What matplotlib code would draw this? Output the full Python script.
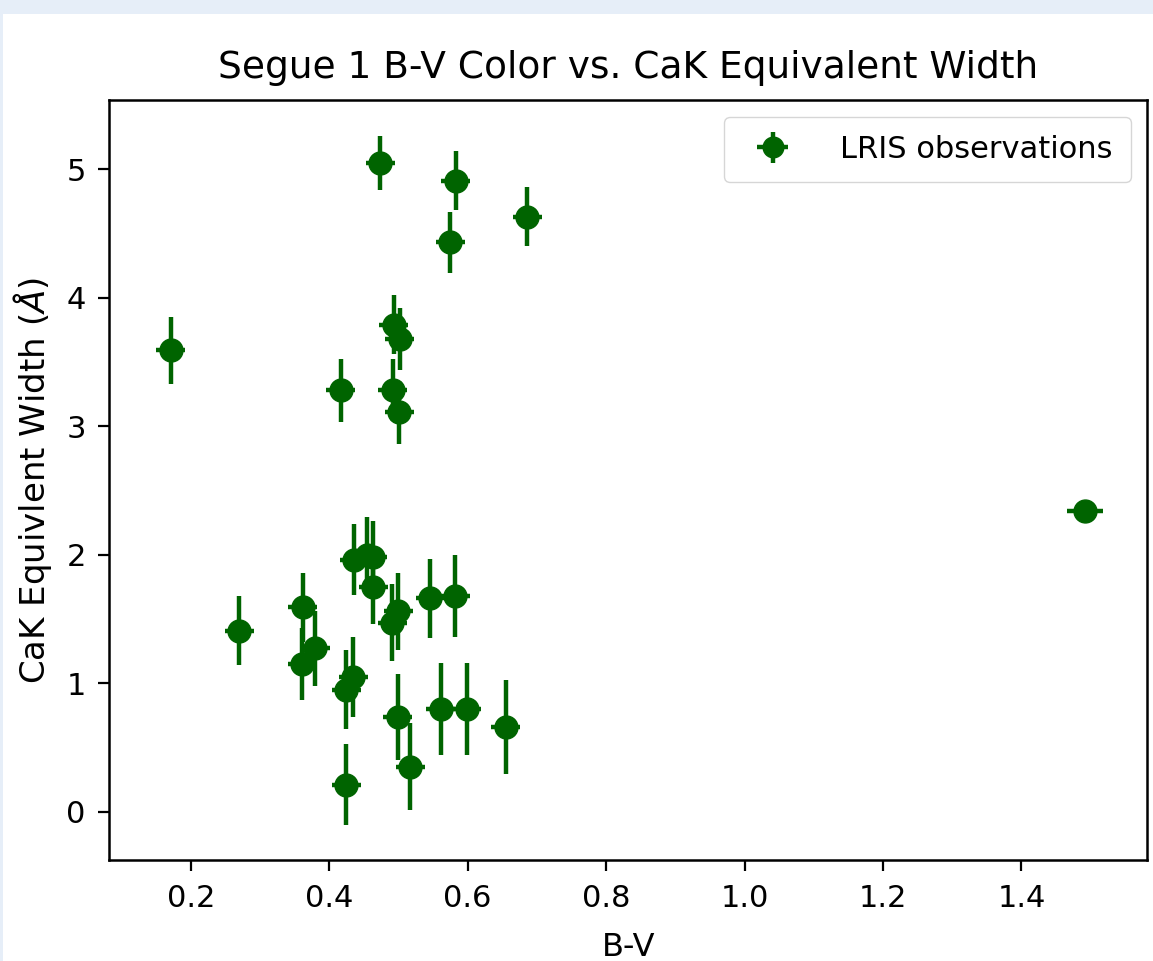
import matplotlib
matplotlib.use("Agg")
import matplotlib.pyplot as plt
from matplotlib.patches import Rectangle

# B-V colour, CaK equivalent width (Angstrom) and their errors
bv = [0.474, 0.583, 0.686, 0.575, 0.171, 0.493, 0.502, 0.417, 0.492, 0.501,
      0.270, 0.362, 0.361, 0.380, 0.436, 0.454, 0.463, 0.464, 0.500, 0.491,
      0.546, 0.582, 0.435, 0.425, 0.499, 0.561, 0.599, 0.655, 0.517, 0.425,
      1.492]
cak = [5.05, 4.91, 4.63, 4.43, 3.59, 3.79, 3.68, 3.28, 3.28, 3.11,
       1.41, 1.59, 1.15, 1.27, 1.96, 2.00, 1.98, 1.75, 1.56, 1.47,
       1.66, 1.68, 1.05, 0.95, 0.74, 0.80, 0.80, 0.66, 0.35, 0.21,
       2.34]
cak_err = [0.21, 0.23, 0.23, 0.24, 0.26, 0.23, 0.24, 0.245, 0.24, 0.245,
           0.27, 0.27, 0.28, 0.29, 0.275, 0.295, 0.285, 0.29, 0.30, 0.30,
           0.31, 0.32, 0.31, 0.31, 0.335, 0.355, 0.355, 0.365, 0.34, 0.315,
           0.03]
bv_err = [0.021] * 30 + [0.026]

GREEN = "#006400"

fig = plt.figure(figsize=(11.53, 9.61), dpi=100)
fig.patch.set_facecolor("white")
# light blue frame band along the top and left edge
fig.add_artist(Rectangle((0, 0.985), 1, 0.015, transform=fig.transFigure,
                         facecolor="#e6eef8", edgecolor="none", zorder=-1))
fig.add_artist(Rectangle((0, 0), 0.0025, 1, transform=fig.transFigure,
                         facecolor="#e6eef8", edgecolor="none", zorder=-1))

ax = fig.add_axes([0.0948, 0.1051, 0.9004, 0.7909])
ax.errorbar(bv, cak, xerr=bv_err, yerr=cak_err, fmt="o", color=GREEN,
            ecolor=GREEN, markersize=16.5, elinewidth=3.2, capsize=0,
            label="LRIS observations")

ax.set_xlim(0.0824, 1.582)
ax.set_ylim(-0.376, 5.539)
ax.set_xticks([0.2, 0.4, 0.6, 0.8, 1.0, 1.2, 1.4])
ax.set_yticks([0, 1, 2, 3, 4, 5])

ax.set_title("Segue 1 B-V Color vs. CaK Equivalent Width", fontsize=27, pad=16)
ax.set_xlabel("B-V", fontsize=23, labelpad=14)
ax.set_ylabel(r"CaK Equivlent Width ($\AA$)", fontsize=24.5, labelpad=9)
ax.tick_params(labelsize=22, width=1.6, length=8, pad=9)
for spine in ax.spines.values():
    spine.set_linewidth(1.8)

ax.legend(loc="upper right", fontsize=22, borderpad=0.6, handletextpad=1.2,
          borderaxespad=0.55, markerscale=0.9)

fig.savefig("out.png", dpi=100, facecolor=fig.get_facecolor())
